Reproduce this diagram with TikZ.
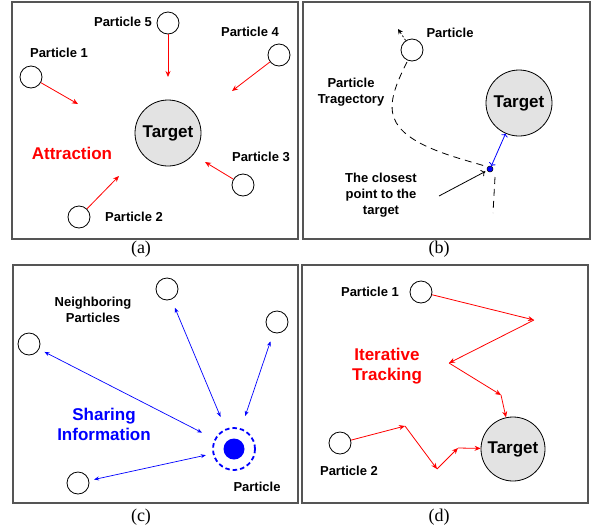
\documentclass[tikz,border=0pt]{standalone}
\usepackage{fontspec}
\setmainfont{Liberation Sans}
\newfontfamily\capfont{Liberation Serif}
\usetikzlibrary{arrows.meta}
\definecolor{framegray}{HTML}{555555}
\definecolor{targetfill}{HTML}{E3E3E3}
\tikzset{
  panel/.style={draw=framegray, line width=1.3pt},
  ptc/.style={circle, draw=black, line width=0.8pt, fill=white, minimum size=22pt, inner sep=0pt},
  target/.style={circle, draw=black, line width=0.8pt, fill=targetfill, inner sep=0pt,
    font=\bfseries\fontsize{17}{20}\selectfont},
  lbl/.style={font=\bfseries\fontsize{13}{16}\selectfont, align=center, inner sep=0pt},
  biglbl/.style={font=\bfseries\fontsize{17}{20}\selectfont, align=center, inner sep=0pt},
  captxt/.style={font=\capfont\fontsize{18}{20}\selectfont, inner sep=0pt},
  redarr/.style={draw=red, line width=0.8pt, -{Stealth[length=6pt,width=5pt]}},
  bluearr/.style={draw=blue, line width=0.7pt, {Stealth[length=5pt,width=4pt]}-{Stealth[length=5pt,width=4pt]}},
  openarr/.style={line width=0.8pt, -{To[length=4pt,width=7pt]}},
}
\begin{document}
\begin{tikzpicture}[x=1pt, y=-1pt]
\useasboundingbox (0,0) rectangle (592,531);

% ---------- (a) attraction towards the target ----------
\draw[panel] (12,2) rectangle (298,239);
\node[target, minimum size=66pt] (ta) at (168,133) {Target};
\node[ptc] (a5) at (168,23) {};
\node[ptc] (a4) at (279,55) {};
\node[ptc] (a1) at (31,77) {};
\node[ptc] (a3) at (243,185) {};
\node[ptc] (a2) at (79,217) {};
\node[lbl] (la5) at (123,22) {Particle 5};
\node[lbl] (la4) at (250,32) {Particle 4};
\node[lbl] (la1) at (59,53) {Particle 1};
\node[lbl] (la3) at (261,157) {Particle 3};
\node[lbl] (la2) at (134,217) {Particle 2};
\node[biglbl, text=red] (attr) at (72,153) {Attraction};
\coordinate (e5) at (168,77);
\coordinate (e4) at (232,91);
\coordinate (e1) at (78,104);
\coordinate (e3) at (205,162);
\coordinate (e2) at (119,176);
\draw[redarr] (a5) -- (e5);
\draw[redarr] (a4) -- (e4);
\draw[redarr] (a1) -- (e1);
\draw[redarr] (a3) -- (e3);
\draw[redarr] (a2) -- (e2);
\node[captxt] (capa) at (141,249) {(a)};

% ---------- (b) closest point of a trajectory ----------
\draw[panel] (303,2) rectangle (590,239);
\node[target, minimum size=66pt] (tb) at (519,103) {Target};
\node[ptc] (pb) at (412,50) {};
\node[lbl] (lpb) at (450,33) {Particle};
\node[lbl] (ltraj) at (351,92) {Particle\\Tragectory};
\node[lbl] (lclose) at (381,195) {The closest\\point to the\\target};
\node[circle, draw=black, fill=blue, line width=0.5pt, minimum size=6pt, inner sep=0pt] (dot) at (490,169) {};
\coordinate (headb) at (398,29);
\coordinate (trajstart) at (407,62);
\coordinate (trajmid) at (394,118);
\coordinate (trajend) at (485,166);
\coordinate (tailtop) at (495,177);
\coordinate (tailbot) at (493,213);
\coordinate (cstart) at (439,196);
\draw[line width=0.8pt, dash pattern=on 2pt off 2pt, -{Stealth[length=5pt,width=5pt]}] (pb) -- (headb);
\draw[line width=0.8pt, dash pattern=on 7pt off 5pt]
  (trajstart) .. controls (397,82) and (388,102) .. (trajmid)
  .. controls (404,145) and (455,157) .. (trajend);
\draw[line width=0.8pt, dash pattern=on 7pt off 5pt] (tailtop) -- (tailbot);
\draw[blue, line width=0.8pt, {To[length=3pt,width=7pt]}-{To[length=3pt,width=7pt]}] (dot) -- (tb);
\draw[openarr, shorten >=2pt] (cstart) -- (dot);
\node[captxt] (capb) at (439,249) {(b)};

% ---------- (c) information sharing ----------
\draw[panel] (13,265) rectangle (298,503);
\node[ptc] (n1) at (167,289) {};
\node[ptc] (n2) at (277,322) {};
\node[ptc] (n3) at (29,344) {};
\node[ptc] (n4) at (78,483) {};
\node[circle, draw=blue, line width=1.8pt, dash pattern=on 4.5pt off 3pt, minimum size=42pt, inner sep=0pt] (pc) at (234,449) {};
\node[circle, fill=blue, minimum size=21pt, inner sep=0pt] (pcore) at (234,449) {};
\node[lbl] (lneigh) at (93,310) {Neighboring\\Particles};
\node[lbl] (lpc) at (257,487) {Particle};
\node[biglbl, text=blue] (share) at (104,424) {Sharing\\Information};
\draw[bluearr, shorten <=6pt, shorten >=14pt] (n3) -- (pc);
\draw[bluearr, shorten <=9pt, shorten >=13pt] (n1) -- (pc);
\draw[bluearr, shorten <=9pt, shorten >=13pt] (n2) -- (pc);
\draw[bluearr, shorten <=5pt, shorten >=7pt] (n4) -- (pc);
\node[captxt] (capc) at (141,517) {(c)};

% ---------- (d) iterative tracking ----------
\draw[panel] (302,265) rectangle (588,503);
\node[target, minimum size=64pt] (td) at (513,449) {Target};
\node[ptc] (d1) at (421,292) {};
\node[ptc] (d2) at (340,443) {};
\node[lbl] (ld1) at (370,292) {Particle 1};
\node[lbl] (ld2) at (349,471) {Particle 2};
\node[biglbl, text=red] (iter) at (387,366) {Iterative\\Tracking};
\coordinate (s1) at (534,320);
\coordinate (s2) at (449,363);
\coordinate (s3) at (501,395);
\coordinate (r1) at (405,426);
\coordinate (r2) at (437,469);
\coordinate (r3) at (458,448);
\draw[redarr] (d1) -- (s1);
\draw[redarr] (s1) -- (s2);
\draw[redarr] (s2) -- (s3);
\draw[redarr] (s3) -- (td);
\draw[redarr] (d2) -- (r1);
\draw[redarr] (r1) -- (r2);
\draw[redarr] (r2) -- (r3);
\draw[redarr] (r3) -- (td);
\node[captxt] (capd) at (439,517) {(d)};
\end{tikzpicture}
\end{document}
